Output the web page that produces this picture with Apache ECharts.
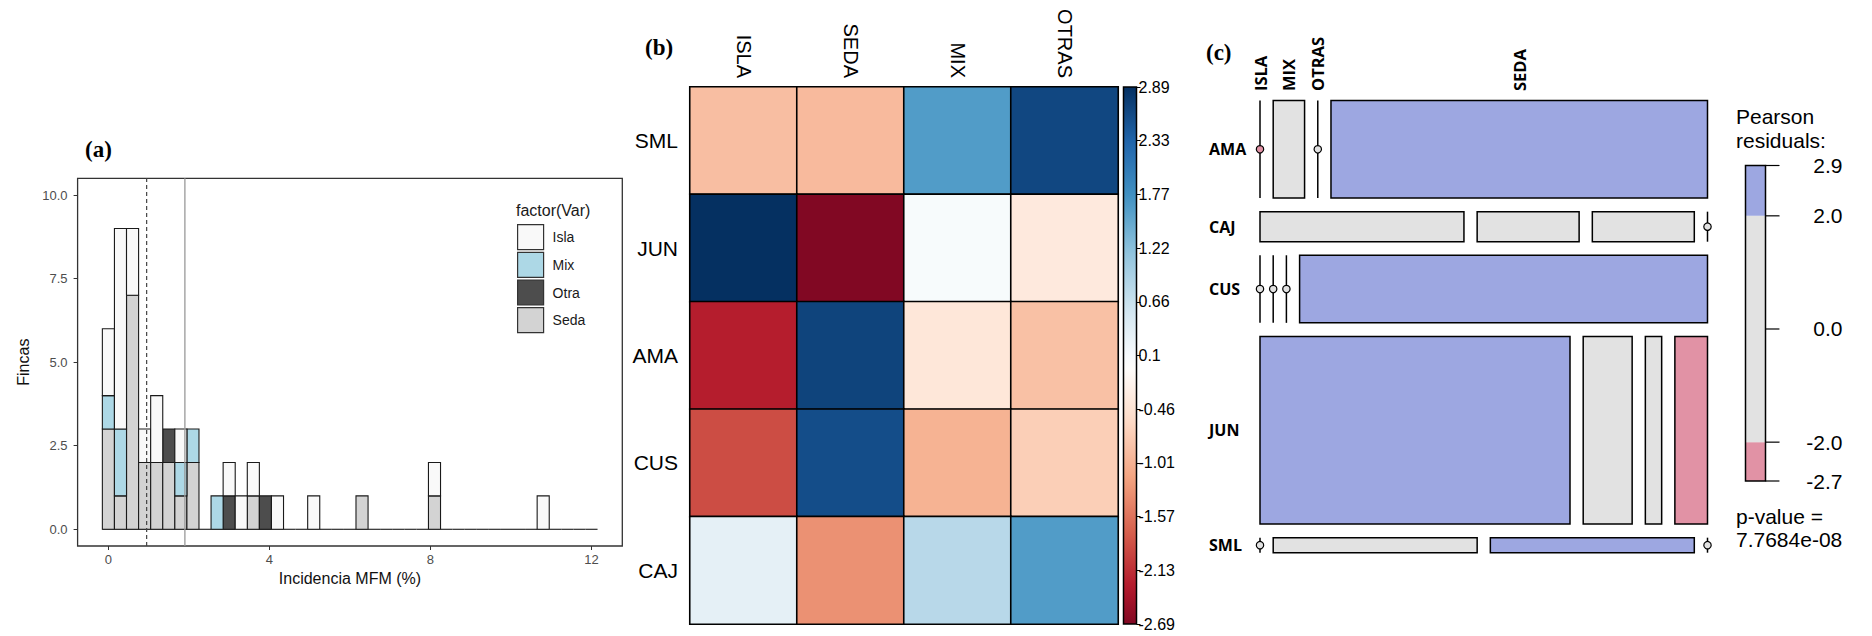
<!DOCTYPE html>
<html><head><meta charset="utf-8">
<script src="https://cdn.jsdelivr.net/npm/echarts@6/dist/echarts.min.js"></script>
<style>html,body{margin:0;padding:0;background:#fff}#c{width:1872px;height:636px}</style>
</head><body><div id="c"></div>
<script>
// ---------- Panel (a): histogram, Incidencia MFM (%) ----------
const binWidth = 0.3;
const binCenters = [0,0.3,0.6,0.9,1.2,1.5,1.8,2.1,2.4,2.7,3.0,3.3,3.6,3.9,4.2,4.5,4.8,5.1,5.4,5.7,6.0,6.3,6.6,6.9,7.2,7.5,7.8,8.1,8.4,8.7,9.0,9.3,9.6,9.9,10.2,10.5,10.8,11.1,11.4,11.7,12.0];
const sedaCounts = [3,1,7,2,2,2,1,2, 0,0,0,0,1,0,0,0, 0,0,0,0,0,1,0,0, 0,0,0,1,0,0,0,0, 0,0,0,0,0,0,0,0, 0];
const otraCounts = [0,0,0,0,0,1,0,0, 0,0,1,0,0,1,0,0, 0,0,0,0,0,0,0,0, 0,0,0,0,0,0,0,0, 0,0,0,0,0,0,0,0, 0];
const mixCounts  = [1,2,0,0,0,0,1,1, 0,1,0,0,0,0,0,0, 0,0,0,0,0,0,0,0, 0,0,0,0,0,0,0,0, 0,0,0,0,0,0,0,0, 0];
const islaCounts = [2,6,2,1,2,0,1,0, 0,0,1,1,1,0,1,0, 0,1,0,0,0,0,0,0, 0,0,0,1,0,0,0,0, 0,0,0,0,1,0,0,0, 0];
const refLines = [0.95, 1.9];
const xTicksA = [0, 4, 8, 12];
const yTicksA = [0, 2.5, 5, 7.5, 10];
const legendA = ['Isla', 'Mix', 'Otra', 'Seda'];

// ---------- Panel (b): heatmap of Pearson residuals ----------
const hmCols = ['ISLA', 'SEDA', 'MIX', 'OTRAS'];
const hmRows = ['SML', 'JUN', 'AMA', 'CUS', 'CAJ'];
const resSML = [-0.89, -0.93, 1.63, 2.64];
const resJUN = [2.89, -2.69, 0.10, -0.35];
const resAMA = [-2.27, 2.68, -0.39, -0.86];
const resCUS = [-1.89, 2.58, -1.01, -0.71];
const resCAJ = [0.33, -1.32, 0.81, 1.63];
const cbMin = -2.6866, cbMax = 2.8896;
const colorLim = 2.8896;
const cbTickLabels = ['-2.69', '-2.13', '-1.57', '-1.01', '-0.46', '0.1', '0.66', '1.22', '1.77', '2.33', '2.89'];

// ---------- Panel (c): mosaic counts ----------
const mosRows = ['AMA', 'CAJ', 'CUS', 'JUN', 'SML'];
const mosCols = ['ISLA', 'MIX', 'OTRAS', 'SEDA'];
const cntAMA = [0, 1, 0, 12];
const cntCAJ = [2, 1, 1, 0];
const cntCUS = [0, 0, 0, 9];
const cntJUN = [19, 3, 1, 2];
const cntSML = [0, 1, 1, 0];
const resTickValues = [2.8896, 2, 0, -2, -2.6866];
const resTickLabels = ['2.9', '2.0', '0.0', '-2.0', '-2.7'];
const resBreaks = [-2.6866, -2, 2, 2.8896];

// ---------- styling ----------
const SANS = '"Liberation Sans", Arial, sans-serif';
const BOLD = '"Open Sans", "Noto Sans", sans-serif';
const rdbu = ['#67001F','#B2182B','#D6604D','#F4A582','#FDDBC7','#FFFFFF','#D1E5F0','#92C5DE','#4393C3','#2166AC','#053061'];
const groupColors = {Seda: '#D3D3D3', Otra: '#4D4D4D', Mix: '#ADD8E6', Isla: '#F9F9F9'};
const mosBlue = '#9DA7E1', mosPink = '#E192A5', mosGray = '#E2E2E2';

// ---------- build histogram stacks (bottom->top: Seda, Otra, Mix, Isla) ----------
const groups = [
  {name: 'Seda', counts: sedaCounts},
  {name: 'Otra', counts: otraCounts},
  {name: 'Mix', counts: mixCounts},
  {name: 'Isla', counts: islaCounts}
];
const base = binCenters.map(() => 0);
groups.forEach(g => {
  g.data = [];
  binCenters.forEach((c, i) => {
    const n = g.counts[i];
    if (n > 0) { g.data.push([c, base[i], base[i] + n]); base[i] += n; }
  });
});
const half = binWidth / 2;
function histItem(params, api) {
  const x = api.value(0), lo = api.value(1), hi = api.value(2);
  const p0 = api.coord([x - half, hi]);
  const p1 = api.coord([x + half, lo]);
  return {type: 'rect', shape: {x: p0[0], y: p0[1], width: p1[0] - p0[0], height: p1[1] - p0[1]},
          style: {fill: api.visual('color'), stroke: '#1a1a1a', lineWidth: 1.1}};
}

// ---------- heatmap data ----------
const hmRes = {SML: resSML, JUN: resJUN, AMA: resAMA, CUS: resCUS, CAJ: resCAJ};
const hmData = [];
hmRows.forEach((r, ri) => hmRes[r].forEach((v, ci) => hmData.push([ci, ri, v])));
// colorbar gradient: same symmetric ramp as the cells, shown over the data range
const cbStops = [];
for (let k = 0; k <= 40; k++) {
  const v = cbMin + k * (cbMax - cbMin) / 40;
  cbStops.push({offset: k / 40, color: echarts.color.lerp((v + colorLim) / (2 * colorLim), rdbu)});
}

// ---------- mosaic layout ----------
const mosCounts = {AMA: cntAMA, CAJ: cntCAJ, CUS: cntCUS, JUN: cntJUN, SML: cntSML};
const sum = a => a.reduce((s, v) => s + v, 0);
const N = sum(mosRows.map(r => sum(mosCounts[r])));
const gapX = 0.0295, gapY = 0.030;
const availX = 1 - gapX * (mosCols.length - 1);
const availY = 1 - gapY * (mosRows.length - 1);
const mosCells = [], mosLabelItems = [];
let yCur = 0;
mosRows.forEach((r, ri) => {
  const cnt = mosCounts[r], tot = sum(cnt), h = tot / N * availY;
  let xCur = 0;
  cnt.forEach((n, ci) => {
    const w = n / tot * availX;
    const res = hmRes[r][hmCols.indexOf(mosCols[ci])];
    mosCells.push([xCur, xCur + w, yCur, yCur + h, n, res]);
    if (ri === 0) mosLabelItems.push({kind: 'col', text: mosCols[ci], x: xCur + w / 2, y: 0});
    xCur += w + gapX;
  });
  mosLabelItems.push({kind: 'row', text: r, x: 0, y: yCur + h / 2});
  yCur += h + gapY;
});
function resColor(r) { return r > 2 ? mosBlue : (r < -2 ? mosPink : mosGray); }

const chart = echarts.init(document.getElementById('c'), null, {renderer: 'svg'});
const option = {
  animation: false,
  backgroundColor: '#fff',
  grid: [
    {left: 77.6, top: 178.3, width: 544.7, height: 367.7, show: true, borderColor: '#333', borderWidth: 1.3, backgroundColor: 'transparent'},
    {left: 690, top: 87, width: 428, height: 537},
    {left: 1123.5, top: 87, width: 13, height: 537},
    {left: 1260, top: 100.5, width: 447.5, height: 452.2},
    {left: 1745.5, top: 165.5, width: 20, height: 315.5}
  ],
  xAxis: [
    {gridIndex: 0, type: 'value', min: -0.765, max: 12.765,
     axisLine: {show: false, onZero: false}, splitLine: {show: false},
     axisTick: {show: true, length: 4, lineStyle: {color: '#333'}, customValues: xTicksA},
     axisLabel: {customValues: xTicksA, fontSize: 13, color: '#4d4d4d', margin: 7, fontFamily: SANS},
     name: 'Incidencia MFM (%)', nameLocation: 'middle', nameGap: 15,
     nameTextStyle: {fontSize: 16, color: '#111', fontFamily: SANS}},
    {gridIndex: 1, type: 'category', data: hmCols, position: 'top',
     axisLine: {show: false}, axisTick: {show: false}, splitLine: {show: false},
     axisLabel: {rotate: 90, fontSize: 20, color: '#000', margin: 9, fontFamily: SANS, interval: 0}},
    {gridIndex: 2, type: 'value', min: 0, max: 1, show: false},
    {gridIndex: 3, type: 'value', min: 0, max: 1, show: false},
    {gridIndex: 4, type: 'value', min: 0, max: 1, show: false}
  ],
  yAxis: [
    {gridIndex: 0, type: 'value', min: -0.5, max: 10.5,
     axisLine: {show: false, onZero: false}, splitLine: {show: false},
     axisTick: {show: true, length: 4, lineStyle: {color: '#333'}, customValues: yTicksA},
     axisLabel: {customValues: yTicksA, fontSize: 13, color: '#4d4d4d', margin: 10, fontFamily: SANS, formatter: v => v.toFixed(1)},
     name: 'Fincas', nameLocation: 'middle', nameGap: 46,
     nameTextStyle: {fontSize: 16, color: '#111', fontFamily: SANS}},
    {gridIndex: 1, type: 'category', data: hmRows, inverse: true,
     axisLine: {show: false}, axisTick: {show: false}, splitLine: {show: false},
     axisLabel: {fontSize: 21, color: '#000', margin: 12, fontFamily: SANS, interval: 0}},
    {gridIndex: 2, type: 'value', min: cbMin, max: cbMax, show: false},
    {gridIndex: 2, type: 'category', data: cbTickLabels, boundaryGap: false, position: 'right',
     axisLine: {show: false}, splitLine: {show: false},
     axisTick: {show: true, length: 4, interval: 0, lineStyle: {color: '#000', width: 1}},
     axisLabel: {fontSize: 16, color: '#000', margin: 2, fontFamily: SANS, interval: 0}},
    {gridIndex: 3, type: 'value', min: 0, max: 1, inverse: true, show: false},
    {gridIndex: 4, type: 'value', min: cbMin, max: cbMax, show: false}
  ],
  visualMap: {type: 'continuous', show: false, seriesIndex: 6, dimension: 2,
              min: -colorLim, max: colorLim, inRange: {color: rdbu}},
  legend: {data: legendA, orient: 'vertical', left: 517, top: 224, padding: 0,
           itemWidth: 26, itemHeight: 25, itemGap: 1.5, icon: 'rect', selectedMode: false,
           itemStyle: {borderColor: '#333', borderWidth: 1.2},
           textStyle: {fontSize: 14, color: '#1a1a1a', fontFamily: SANS, padding: [0, 0, 0, 4]}},
  graphic: [
    {type: 'text', x: 85, y: 149.5, style: {text: '(a)', font: 'bold 23px "Liberation Serif", serif', fill: '#000', verticalAlign: 'middle'}},
    {type: 'text', x: 645, y: 47, style: {text: '(b)', font: 'bold 23px "Liberation Serif", serif', fill: '#000', verticalAlign: 'middle'}},
    {type: 'text', x: 1206, y: 52, style: {text: '(c)', font: 'bold 23px "Liberation Serif", serif', fill: '#000', verticalAlign: 'middle'}},
    {type: 'text', x: 516, y: 210, style: {text: 'factor(Var)', font: '16px ' + SANS, fill: '#1a1a1a', verticalAlign: 'middle'}},
    {type: 'text', x: 1736, y: 116, style: {text: 'Pearson', font: '21px ' + SANS, fill: '#000', verticalAlign: 'middle'}},
    {type: 'text', x: 1736, y: 140, style: {text: 'residuals:', font: '21px ' + SANS, fill: '#000', verticalAlign: 'middle'}},
    {type: 'text', x: 1736, y: 516, style: {text: 'p-value =', font: '21px ' + SANS, fill: '#000', verticalAlign: 'middle'}},
    {type: 'text', x: 1736, y: 539, style: {text: '7.7684e-08', font: '21px ' + SANS, fill: '#000', verticalAlign: 'middle'}}
  ],
  series: [
    // 0: histogram baseline (empty bins)
    {type: 'custom', xAxisIndex: 0, yAxisIndex: 0, silent: true,
     data: binCenters.map(c => [c, 0]),
     renderItem: (params, api) => {
       const a = api.coord([api.value(0) - half, 0]), b = api.coord([api.value(0) + half, 0]);
       return {type: 'line', shape: {x1: a[0], y1: a[1], x2: b[0], y2: b[1]}, style: {stroke: '#1a1a1a', lineWidth: 1.1}};
     }},
    // 1-4: stacked histogram groups
    ...groups.map(g => ({type: 'custom', name: g.name, xAxisIndex: 0, yAxisIndex: 0,
      itemStyle: {color: groupColors[g.name], borderColor: '#333', borderWidth: 1.2},
      data: g.data, encode: {x: 0, y: [1, 2]}, renderItem: histItem})),
    // 5: reference vertical lines
    {type: 'custom', xAxisIndex: 0, yAxisIndex: 0, silent: true,
     data: refLines.map(v => [v]),
     renderItem: (params, api) => {
       const a = api.coord([api.value(0), -0.5]), b = api.coord([api.value(0), 10.5]);
       const dashed = params.dataIndex === 0;
       return {type: 'line', shape: {x1: a[0], y1: a[1], x2: b[0], y2: b[1]},
               style: {stroke: dashed ? '#444' : '#999', lineWidth: dashed ? 1.2 : 1.3, lineDash: dashed ? [4, 3] : null}};
     }},
    // 6: heatmap
    {type: 'heatmap', xAxisIndex: 1, yAxisIndex: 1, data: hmData,
     itemStyle: {borderColor: '#000', borderWidth: 1.6}, emphasis: {disabled: true}},
    // 7: colorbar of heatmap
    {type: 'custom', xAxisIndex: 2, yAxisIndex: 2, silent: true,
     data: [[0, cbMin, cbMax]],
     renderItem: (params, api) => {
       const a = api.coord([0, api.value(2)]), b = api.coord([1, api.value(1)]);
       return {type: 'rect', shape: {x: a[0], y: a[1], width: b[0] - a[0], height: b[1] - a[1]},
               style: {fill: new echarts.graphic.LinearGradient(0, 1, 0, 0, cbStops),
                       stroke: '#000', lineWidth: 1.5}};
     }},
    // 8: mosaic cells
    {type: 'custom', xAxisIndex: 3, yAxisIndex: 4, silent: true, clip: false,
     data: mosCells,
     renderItem: (params, api) => {
       const x0 = api.value(0), x1 = api.value(1), y0 = api.value(2), y1 = api.value(3), n = api.value(4), r = api.value(5);
       const a = api.coord([x0, y0]), b = api.coord([x1, y1]);
       const fill = resColor(r);
       if (n > 0) {
         return {type: 'rect', shape: {x: a[0], y: a[1], width: b[0] - a[0], height: b[1] - a[1]},
                 style: {fill: fill, stroke: '#000', lineWidth: 1.5}};
       }
       return {type: 'group', children: [
         {type: 'line', shape: {x1: a[0], y1: a[1], x2: a[0], y2: b[1]}, style: {stroke: '#000', lineWidth: 1.5}},
         {type: 'circle', shape: {cx: a[0], cy: (a[1] + b[1]) / 2, r: 3.7}, style: {fill: fill, stroke: '#000', lineWidth: 1.2}}
       ]};
     }},
    // 9: mosaic labels
    {type: 'custom', xAxisIndex: 3, yAxisIndex: 4, silent: true, clip: false,
     data: mosLabelItems.map(o => [o.x, o.y]),
     renderItem: (params, api) => {
       const o = mosLabelItems[params.dataIndex];
       const p = api.coord([api.value(0), api.value(1)]);
       if (o.kind === 'col') {
         return {type: 'text', x: p[0], y: p[1] - 9.5, rotation: Math.PI / 2,
                 style: {text: o.text, font: 'bold 16.5px ' + BOLD, fill: '#000', align: 'left', verticalAlign: 'middle'}};
       }
       return {type: 'text', x: p[0] - 51, y: p[1],
               style: {text: o.text, font: 'bold 16px ' + BOLD, fill: '#000', align: 'left', verticalAlign: 'middle'}};
     }},
    // 10: residual legend segments
    {type: 'custom', xAxisIndex: 4, yAxisIndex: 5, silent: true, clip: false,
     data: resBreaks.slice(0, -1).map((v, i) => [v, resBreaks[i + 1]]),
     renderItem: (params, api) => {
       const lo = api.value(0), hi = api.value(1);
       const a = api.coord([0, hi]), b = api.coord([1, lo]);
       const mid = (lo + hi) / 2;
       return {type: 'rect', shape: {x: a[0], y: a[1], width: b[0] - a[0], height: b[1] - a[1]},
               style: {fill: resColor(mid > 2 ? 3 : (mid < -2 ? -3 : 0)), stroke: 'none'}};
     }},
    // 11: residual legend border
    {type: 'custom', xAxisIndex: 4, yAxisIndex: 5, silent: true, clip: false,
     data: [[resBreaks[0], resBreaks[resBreaks.length - 1]]],
     renderItem: (params, api) => {
       const a = api.coord([0, api.value(1)]), b = api.coord([1, api.value(0)]);
       return {type: 'rect', shape: {x: a[0], y: a[1], width: b[0] - a[0], height: b[1] - a[1]},
               style: {fill: 'none', stroke: '#000', lineWidth: 1.5}};
     }},
    // 12: residual legend ticks + labels
    {type: 'custom', xAxisIndex: 4, yAxisIndex: 5, silent: true, clip: false,
     data: resTickValues.map(v => [1, v]),
     renderItem: (params, api) => {
       const p = api.coord([1, api.value(1)]);
       return {type: 'group', children: [
         {type: 'line', shape: {x1: p[0], y1: p[1], x2: p[0] + 14, y2: p[1]}, style: {stroke: '#000', lineWidth: 1.2}},
         {type: 'text', x: p[0] + 77, y: p[1], style: {text: resTickLabels[params.dataIndex], font: '21px ' + SANS, fill: '#000', align: 'right', verticalAlign: 'middle'}}
       ]};
     }}
  ]
};
chart.setOption(option);
</script>
</body></html>
